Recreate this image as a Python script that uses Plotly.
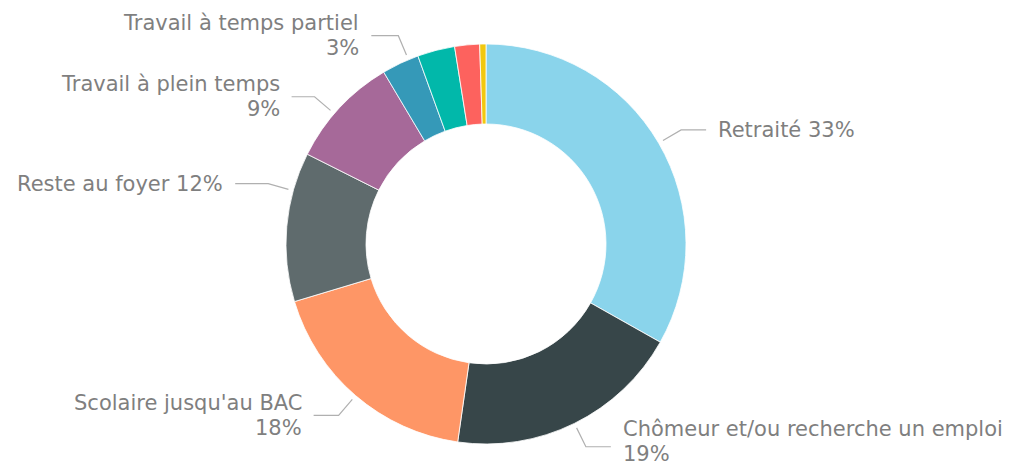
import math
import plotly.graph_objects as go

# ---- data ----
categories = [
    "Retraité",
    "Chômeur et/ou recherche un emploi",
    "Scolaire jusqu'au BAC",
    "Reste au foyer",
    "Travail à plein temps",
    "Travail à temps partiel",
    "Étudiant",
    "Autre",
    "Non renseigné",
]
values = [33, 19, 18, 12, 9, 3, 3, 2, 0.5]
colors = ["#8AD4EB", "#374649", "#FE9666", "#5F6B6D", "#A66999",
          "#3599B8", "#01B8AA", "#FD625E", "#F2C80F"]

# label style: (layout, angle shift in deg, horizontal leader length px, text block vertical nudge px)
label_style = {
    "Retraité": ("inline", 0, 25, 0),
    "Chômeur et/ou recherche un emploi": ("stacked", 0, 25, -5),
    "Scolaire jusqu'au BAC": ("stacked", 0, 25, 0),
    "Reste au foyer": ("inline", 10.5, 33, 0),
    "Travail à plein temps": ("stacked", -2.3, 23, 0),
    "Travail à temps partiel": ("stacked", 2.5, 27, 0),
}

# ---- geometry (pixels) ----
W, H = 1035, 469
CX, CY, R = 486, 244, 200
FONT = "DejaVu Sans"
TEXT_COLOR = "#7f7f7f"
LINE_COLOR = "#b0b0b0"
FS = 21
LINE_GAP = 25


def px(x):
    return x / W


def py(y):
    return 1 - y / H


fig = go.Figure(go.Pie(
    labels=categories,
    values=values,
    hole=0.6,
    sort=False,
    direction="clockwise",
    rotation=0,
    marker=dict(colors=colors, line=dict(color="white", width=0.8)),
    textinfo="none",
    hoverinfo="label+percent",
    showlegend=False,
    domain=dict(x=[px(CX - R), px(CX + R)], y=[py(CY + R), py(CY - R)]),
))

total = sum(values)
cum = 0.0
shapes = []
annotations = []
for cat, v in zip(categories, values):
    mid = (cum + v / 2) / total * 360
    cum += v
    if cat not in label_style:
        continue
    layout_kind, shift, hlen, nudge = label_style[cat]
    a = math.radians(mid + shift)
    r0, r1 = R + 5, R + 26
    x0, y0 = CX + r0 * math.sin(a), CY - r0 * math.cos(a)
    x1, y1 = CX + r1 * math.sin(a), CY - r1 * math.cos(a)
    right = math.sin(a) >= 0
    x2 = x1 + hlen if right else x1 - hlen
    shapes.append(dict(
        type="path", xref="paper", yref="paper",
        path=f"M {px(x0)} {py(y0)} L {px(x1)} {py(y1)} L {px(x2)} {py(y1)}",
        line=dict(color=LINE_COLOR, width=1.2),
    ))
    pct = f"{round(v / total * 100)}%"
    tx = x2 + 10 if right else x2 - 10
    if layout_kind == "inline":
        lines = [f"{cat} {pct}"]
    else:
        lines = [cat, pct]
    n = len(lines)
    for i, t in enumerate(lines):
        ty = y1 + nudge + (i - (n - 1) / 2) * LINE_GAP
        annotations.append(dict(
            x=px(tx), y=py(ty), xref="paper", yref="paper",
            text=t, showarrow=False,
            xanchor="left" if right else "right", yanchor="middle",
            font=dict(family=FONT, size=FS, color=TEXT_COLOR),
        ))

fig.update_layout(
    width=W, height=H,
    margin=dict(l=0, r=0, t=0, b=0),
    paper_bgcolor="white",
    plot_bgcolor="white",
    shapes=shapes,
    annotations=annotations,
)

fig.write_html(
    "out.html",
    config={"displayModeBar": False},
    post_script="document.body.style.margin='0px';document.body.style.overflow='hidden';",
)
